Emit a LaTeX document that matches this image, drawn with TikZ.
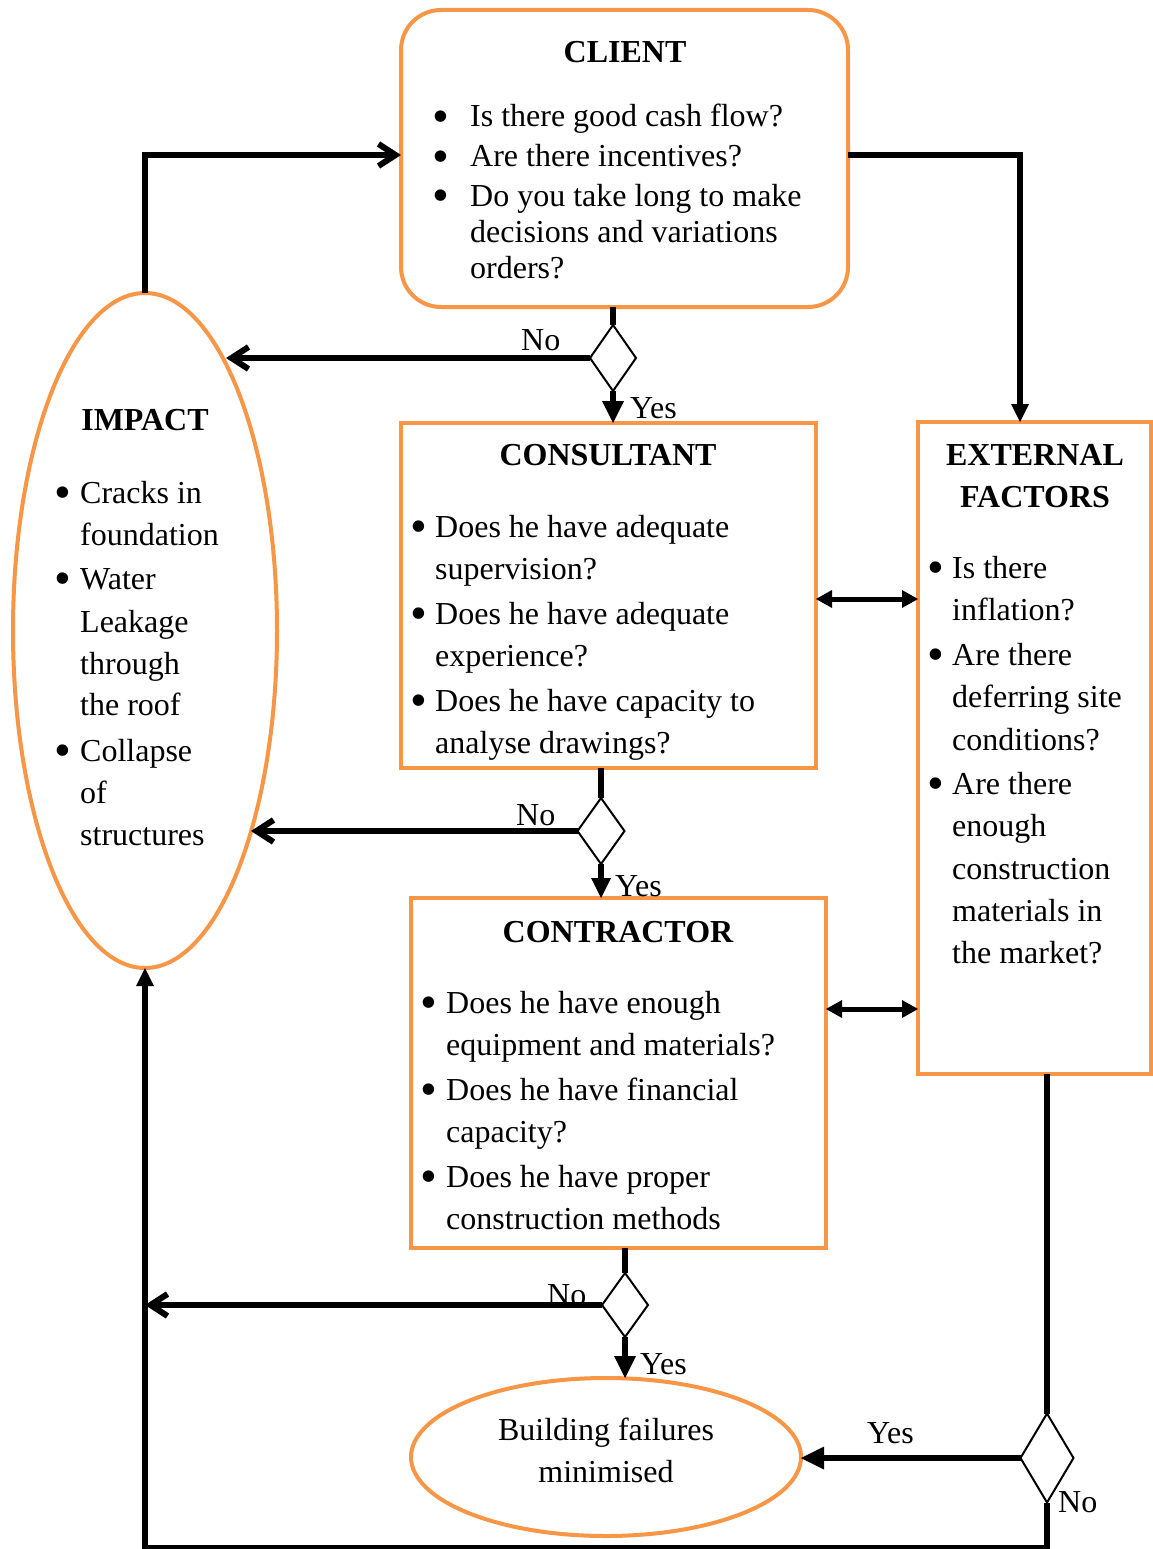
\documentclass[tikz,border=0pt]{standalone}
\usepackage{fontspec}
\setmainfont{Liberation Serif}
\usetikzlibrary{arrows.meta,shapes.geometric}
\definecolor{org}{HTML}{F79646}
\newcommand\myb[1]{\makebox[#1pt][l]{\hspace{-2.8pt}\smash{\raisebox{-5.2pt}{\fontsize{48}{48}\selectfont\textbullet}}}}
\begin{document}
\begin{tikzpicture}[x=1pt,y=-1pt,
 box/.style={draw=org,line width=4pt,fill=white,inner sep=0pt,outer sep=0pt},
 oval/.style={ellipse,draw=org,line width=4pt,fill=white,inner sep=0pt,outer sep=0pt},
 dia/.style={diamond,draw=black,line width=2pt,fill=white,inner sep=0pt,outer sep=0pt},
 ln/.style={anchor=base west,inner sep=0pt,font=\fontsize{32}{36}\selectfont},
 ctr/.style={anchor=base,inner sep=0pt,font=\fontsize{32}{36}\selectfont},
 ttl/.style={anchor=base,inner sep=0pt,font=\fontsize{32}{36}\selectfont\bfseries},
 conn/.style={line width=6pt},
 barb/.style={-{Straight Barb[length=17pt,width=22pt]}},
 tri/.style={-{Triangle[length=#1pt,width=#1pt,line width=0pt]}},
 dbl/.style={line width=5pt,{Triangle[length=16pt,width=18pt,line width=0pt]}-{Triangle[length=16pt,width=18pt,line width=0pt]}}
]
\useasboundingbox (0,0) rectangle (1152,1549);
\fill[white] (0,0) rectangle (1152,1549);

% shapes
\node[box,rounded corners=40pt,minimum width=447pt,minimum height=297pt] (client) at (624.5,158.5) {};
\node[box,minimum width=415pt,minimum height=345pt] (cons) at (608.5,595.5) {};
\node[box,minimum width=233pt,minimum height=652pt] (ext) at (1034.5,748) {};
\node[box,minimum width=415pt,minimum height=350pt] (contr) at (618.5,1073) {};
\node[oval,minimum width=264pt,minimum height=675pt] (imp) at (145,630.5) {};
\node[oval,minimum width=390pt,minimum height=158pt] (bf) at (606,1457) {};

\node[dia,minimum width=46pt,minimum height=66pt] (d1) at (613,358) {};
\node[dia,minimum width=47pt,minimum height=66pt] (d2) at (601,831) {};
\node[dia,minimum width=46pt,minimum height=64pt] (d3) at (625,1305) {};
\node[dia,minimum width=53pt,minimum height=89pt] (d4) at (1047,1458) {};

% client text
\node[ttl] (t1) at (625,63) {CLIENT};
\node[ln] (c1) at (435.4,127) {\myb{34.6}Is there good cash flow?};
\node[ln] (c2) at (435.4,167) {\myb{34.6}Are there incentives?};
\node[ln] (c3) at (435.4,206) {\myb{34.6}Do you take long to make};
\node[ln] (c4) at (470,242) {decisions and variations};
\node[ln] (c5) at (470,278) {orders?};

% consultant text
\node[ttl] (t2) at (608,465) {CONSULTANT};
\node[ln] (k1) at (413.4,537) {\myb{21.6}Does he have adequate};
\node[ln] (k2) at (435,579) {supervision?};
\node[ln] (k3) at (413.4,624) {\myb{21.6}Does he have adequate};
\node[ln] (k4) at (435,666) {experience?};
\node[ln] (k5) at (413.4,711) {\myb{21.6}Does he have capacity to};
\node[ln] (k6) at (435,753) {analyse drawings?};

% external text
\node[ttl] (t3) at (1035,465) {EXTERNAL};
\node[ttl] (t4) at (1035,507) {FACTORS};
\node[ln] (e1) at (930.4,578) {\myb{21.6}Is there};
\node[ln] (e2) at (952,620) {inflation?};
\node[ln] (e3) at (930.4,665) {\myb{21.6}Are there};
\node[ln] (e4) at (952,707) {deferring site};
\node[ln] (e5) at (952,750) {conditions?};
\node[ln] (e6) at (930.4,794) {\myb{21.6}Are there};
\node[ln] (e7) at (952,836) {enough};
\node[ln] (e8) at (952,879) {construction};
\node[ln] (e9) at (952,921) {materials in};
\node[ln] (e10) at (952,963) {the market?};

% contractor text
\node[ttl] (t5) at (618,942) {CONTRACTOR};
\node[ln] (r1) at (423.4,1013) {\myb{22.6}Does he have enough};
\node[ln] (r2) at (446,1055) {equipment and materials?};
\node[ln] (r3) at (423.4,1100) {\myb{22.6}Does he have financial};
\node[ln] (r4) at (446,1142) {capacity?};
\node[ln] (r5) at (423.4,1187) {\myb{22.6}Does he have proper};
\node[ln] (r6) at (446,1229) {construction methods};

% impact text
\node[ttl] (t6) at (145,430) {IMPACT};
\node[ln] (m1) at (57.4,503) {\myb{22.6}Cracks in};
\node[ln] (m2) at (80,545) {foundation};
\node[ln] (m3) at (57.4,589) {\myb{22.6}Water};
\node[ln] (m4) at (80,632) {Leakage};
\node[ln] (m5) at (80,674) {through};
\node[ln] (m6) at (80,715) {the roof};
\node[ln] (m7) at (57.4,761) {\myb{22.6}Collapse};
\node[ln] (m8) at (80,803) {of};
\node[ln] (m9) at (80,845) {structures};

% building failures text
\node[ctr] (b1) at (606,1440) {Building failures};
\node[ctr] (b2) at (606,1482) {minimised};

% labels
\node[ln] (n1) at (521,350) {No};
\node[ln] (y1) at (630,418) {Yes};
\node[ln] (n2) at (516,825) {No};
\node[ln] (y2) at (615,896) {Yes};
\node[ln] (n3) at (547,1305) {No};
\node[ln] (y3) at (640,1374) {Yes};
\node[ln] (y4) at (867,1443) {Yes};
\node[ln] (n4) at (1058,1512) {No};

% connectors
\coordinate (i1) at (226,358);
\coordinate (i2) at (251,831);

\draw[conn,barb] (imp.north) |- ([yshift=3.5pt]client.west);
\draw[conn,tri=18] ([yshift=3.5pt]client.east) -| ([xshift=-14.5pt]ext.north);

\draw[conn] (d1.north |- client.south) -- (d1.north);
\draw[conn,tri=22] (d1.south) -- (d1.south |- cons.north);
\draw[conn,barb] (d1.west) -- (i1);

\draw[conn] (d2.north |- cons.south) -- (d2.north);
\draw[conn,tri=20] (d2.south) -- (d2.south |- contr.north);
\draw[conn,barb] (d2.west) -- (i2);

\draw[conn] (d3.north |- contr.south) -- (d3.north);
\draw[conn,tri=22] (d3.south) -- (d3.south |- bf.north);
\draw[conn,barb] (d3.west) -- (d3.west -| imp.south);

\draw[dbl] ([yshift=-3.5pt]cons.east) -- ([yshift=-3.5pt]cons.east -| ext.west);
\draw[dbl] ([yshift=64pt]contr.east) -- ([yshift=64pt]contr.east -| ext.west);

\draw[conn] (d4.north |- ext.south) -- (d4.north);
\draw[conn,tri=23] (d4.west) -- (d4.west -| bf.east);
\draw[conn,tri=18] (d4.south) -- ++(0,45) -| (imp.south);
\end{tikzpicture}
\end{document}
